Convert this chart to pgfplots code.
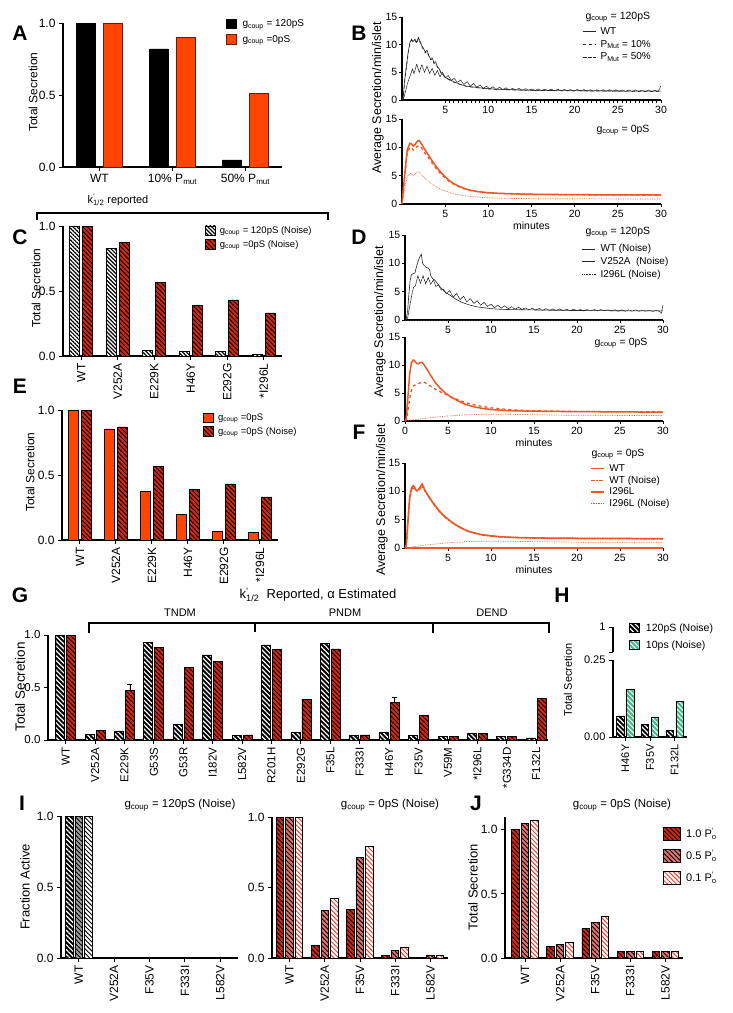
\documentclass[border=0pt]{standalone}
\usepackage{fontspec}
\setmainfont{Liberation Sans}
\usepackage{pgfplots}
\pgfplotsset{compat=1.18}
\usetikzlibrary{patterns.meta}
\newcommand{\fs}[1]{\fontsize{#1}{#1}\selectfont}
\definecolor{orA}{RGB}{255,69,0}
\definecolor{lineor}{RGB}{240,85,35}
\definecolor{redh}{RGB}{210,40,15}
\definecolor{pinkh}{RGB}{225,115,110}
\definecolor{wred}{RGB}{235,70,50}
\definecolor{greenh}{RGB}{60,190,140}
\tikzset{
 hK/.style={fill=black, postaction={pattern color=white, pattern={Lines[angle=-45,distance=3.4pt,line width=1.2pt]}}},
 hG/.style={fill=white, postaction={pattern color=black, pattern={Lines[angle=-45,distance=2.8pt,line width=1.2pt]}}},
 hR/.style={fill=redh, postaction={pattern color=black, pattern={Lines[angle=-45,distance=3.2pt,line width=0.9pt]}}},
 hP/.style={fill=pinkh, postaction={pattern color=black, pattern={Lines[angle=-45,distance=3.2pt,line width=0.9pt]}}},
 hWR/.style={fill=white, postaction={pattern color=wred, pattern={Lines[angle=-45,distance=3.2pt,line width=1pt]}}},
 hGR/.style={fill=greenh, postaction={pattern color=white, pattern={Lines[angle=-45,distance=3.4pt,line width=1pt]}}},
 hDG/.style={fill=gray!75, postaction={pattern color=black, pattern={Lines[angle=-45,distance=3.2pt,line width=0.9pt]}}},
 hWK/.style={fill=white, postaction={pattern color=black, pattern={Lines[angle=-45,distance=3.2pt,line width=0.9pt]}}},
}
\pgfplotsset{
 /pgf/number format/assume math mode=true,
 gp/.style={scale only axis, anchor=south west, axis lines*=left, axis line style={line width=1.1pt},
   tick style={black, line width=1pt}, tick align=outside, major tick length=4pt,
   ymin=0, clip=false, tick label style={font=\fs{12}}},
 bars/.style={gp, yticklabel style={/pgf/number format/.cd, fixed, fixed zerofill, precision=1},
   legend cell align=left, legend style={draw=none, fill=none, inner sep=0pt, nodes={inner sep=1pt}, column sep=3pt}},
 catx/.style={xticklabel style={rotate=90, anchor=east}},
 barleg/.style={legend image code/.code={\draw[##1] (0pt,-4.5pt) rectangle (10pt,5pt);}},
 bigleg/.style={legend image code/.code={\draw[##1] (0pt,-6.5pt) rectangle (17pt,6.5pt);}},
 lineleg/.style={legend image code/.code={\draw[##1] (0pt,0pt) -- (13pt,0pt);}},
 ts/.style={gp, xmin=0, xmax=30, ymax=15, ytick={0,5,10,15}, xtick={5,10,...,30}, no marks,
   major tick length=3pt, yticklabel style={inner xsep=1.5pt},
   tick label style={font=\fs{10.5}}, xlabel style={font=\fs{10.5}, yshift=3pt},
   legend cell align=left, legend style={draw=none, fill=none, font=\fs{10}, inner sep=0pt, nodes={inner sep=0.8pt}, row sep=2.5pt, column sep=4pt}, lineleg},
}
\begin{document}
\begin{tikzpicture}
\path[use as bounding box] (0,0) rectangle (733pt,-1013pt);

% ---------- A ----------
\begin{axis}[bars, at={(63pt,-167pt)}, width=219pt, height=144pt, xmin=-0.5, xmax=2.5, ymax=1,
  ytick={0,0.5,1}, xtick={0,1,2}, xticklabels={WT,10\% P\textsubscript{mut},50\% P\textsubscript{mut}},
  ybar=8pt, bar width=19pt, barleg,
  legend style={at={(0.744,1.03)}, anchor=north west, font=\fs{10}, row sep=5pt, column sep=5pt}]
\addplot[fill=black, draw=black] coordinates {(0,1) (1,0.82) (2,0.05)};
\addplot[fill=orA, draw=black!60!orA] coordinates {(0,1) (1,0.90) (2,0.51)};
\legend{g\textsubscript{coup} = 120pS, g\textsubscript{coup} =0pS}
\end{axis}

% ---------- C ----------
\begin{axis}[bars, catx, at={(63pt,-356pt)}, width=219pt, height=130pt, xmin=-0.5, xmax=5.5, ymax=1,
  ytick={0,0.5,1}, xtick={0,...,5}, xticklabels={WT,V252A,E229K,H46Y,E292G,*I296L},
  ybar=3pt, bar width=10pt, barleg,
  legend style={at={(0.648,1.005)}, anchor=north west, font=\fs{9.5}, row sep=3pt}]
\addplot[hG, draw=black, line width=0.8pt] coordinates {(0,1) (1,0.828) (2,0.041) (3,0.033) (4,0.033) (5,0.015)};
\addplot[hR, draw=black, line width=0.8pt] coordinates {(0,1) (1,0.872) (2,0.564) (3,0.387) (4,0.431) (5,0.331)};
\legend{g\textsubscript{coup} = 120pS (Noise), g\textsubscript{coup} =0pS (Noise)}
\end{axis}

% ---------- E ----------
\begin{axis}[bars, catx, at={(62pt,-540pt)}, width=216pt, height=130pt, xmin=-0.5, xmax=5.5, ymax=1,
  ytick={0,0.5,1}, xtick={0,...,5}, xticklabels={WT,V252A,E229K,H46Y,E292G,*I296L},
  ybar=3pt, bar width=10pt, barleg,
  legend style={at={(0.653,0.98)}, anchor=north west, font=\fs{9.5}, row sep=3pt}]
\addplot[fill=orA, draw=black, line width=0.8pt] coordinates {(0,1) (1,0.854) (2,0.372) (3,0.2) (4,0.069) (5,0.062)};
\addplot[hR, draw=black, line width=0.8pt] coordinates {(0,1) (1,0.870) (2,0.564) (3,0.387) (4,0.431) (5,0.331)};
\legend{g\textsubscript{coup} =0pS, g\textsubscript{coup} =0pS (Noise)}
\end{axis}

% ---------- B top ----------
\begin{axis}[ts, at={(402pt,-100pt)}, width=259pt, height=83pt, minor x tick num=9, minor tick length=2.5pt,
  legend style={at={(0.695,0.885)}, anchor=north west}]
\addplot[black!85, line width=0.6pt] coordinates {(0,0)(0.15,0.5)(0.3,3.5)(0.5,6)(0.7,8.5)(0.9,10.3)(1.1,11)(1.3,10.6)(1.5,11)(1.7,10.4)(1.9,11.3)(2.1,10.6)(2.3,9.8)(2.5,9.3)(2.7,8.7)(2.9,9.0)(3.1,8.0)(3.3,7.5)(3.5,7.6)(3.7,6.8)(3.9,6.9)(4.1,6.0)(4.3,5.7)(4.5,5.0)(4.8,4.5)(5.1,4.0)(5.5,3.7)(6.0,3.3)(6.5,3.0)(7.0,2.7)(7.5,2.5)(8.0,2.4)(9.0,2.2)(10,2.05)(11,1.95)(12,1.9)(14,1.8)(16,1.75)(18,1.7)(20,1.7)(22,1.65)(24,1.65)(26,1.6)(28,1.6)(30,1.6)};
\addplot[black!85, line width=0.6pt, dashed] coordinates {(0,0)(0.15,0.4)(0.3,3.2)(0.5,5.7)(0.7,8.2)(0.9,10.0)(1.1,10.8)(1.3,10.4)(1.5,10.8)(1.7,10.2)(1.9,11.1)(2.1,10.4)(2.3,9.6)(2.5,9.1)(2.7,8.5)(2.9,8.8)(3.1,7.8)(3.3,7.3)(3.5,7.4)(3.7,6.6)(3.9,6.7)(4.1,5.9)(4.3,5.6)(4.5,4.9)(4.8,4.4)(5.1,3.9)(5.5,3.6)(6.0,3.2)(6.5,2.9)(7.0,2.65)(7.5,2.45)(8.0,2.35)(9.0,2.15)(10,2.0)(11,1.9)(12,1.85)(14,1.78)(16,1.72)(18,1.68)(20,1.66)(22,1.63)(24,1.62)(26,1.6)(28,1.58)(30,1.58)};
\addplot[black!85, line width=0.6pt, dash pattern=on 1.3pt off 0.4pt] coordinates {(0,0)(0.2,0.3)(0.4,1.5)(0.6,2.8)(0.8,3.8)(1.0,4.6)(1.2,5.6)(1.4,4.8)(1.7,6.5)(2.0,5.0)(2.3,6.4)(2.6,5.0)(2.9,6.1)(3.2,4.8)(3.5,5.7)(3.8,4.5)(4.1,5.3)(4.4,4.2)(4.7,5.0)(5.0,4.0)(5.35,4.4)(5.7,3.6)(6.05,3.9)(6.4,3.2)(6.8,3.6)(7.15,2.8)(7.55,3.3)(7.9,2.5)(8.3,3.0)(8.65,2.3)(9.05,2.7)(9.4,2.1)(9.8,2.5)(10.15,2.0)(10.55,2.4)(10.9,1.9)(11.3,2.3)(11.65,1.9)(12.05,2.2)(12.4,1.8)(12.8,2.1)(13.15,1.8)(13.55,2.1)(13.9,1.75)(14.3,2.05)(14.65,1.75)(15.05,2.0)(15.4,1.7)(15.8,2.0)(16.15,1.7)(16.55,1.95)(16.9,1.7)(17.3,1.95)(17.65,1.65)(18.05,1.95)(18.4,1.65)(18.8,1.9)(19.15,1.65)(19.55,1.9)(19.9,1.6)(20.3,1.9)(20.65,1.6)(21.05,1.9)(21.4,1.6)(21.8,1.85)(22.15,1.6)(22.55,1.85)(22.9,1.6)(23.3,1.85)(23.65,1.55)(24.05,1.85)(24.4,1.55)(24.8,1.85)(25.15,1.55)(25.55,1.8)(25.9,1.55)(26.3,1.8)(26.65,1.55)(27.05,1.8)(27.4,1.55)(27.8,1.8)(28.15,1.5)(28.55,1.8)(28.9,1.5)(29.3,1.75)(29.6,1.5)(29.8,1.9)(30,2.6)};
\legend{WT, P\textsubscript{Mut} = 10\%, P\textsubscript{Mut} = 50\%}
\end{axis}

% ---------- B bottom ----------
\begin{axis}[ts, at={(402pt,-204pt)}, width=259pt, height=85pt, xlabel={minutes}]
\addplot[lineor, line width=1.5pt] coordinates {(0,0)(0.3,5)(0.6,9.5)(0.9,10.7)(1.1,10.6)(1.3,10.2)(1.5,10.5)(1.8,11.1)(2.0,11.2)(2.3,10.5)(2.6,9.7)(3.0,8.8)(3.5,7.6)(4.0,6.5)(4.5,5.6)(5.0,4.8)(5.5,4.1)(6.0,3.6)(6.5,3.2)(7.0,2.9)(7.5,2.6)(8.0,2.4)(9.0,2.15)(10,2.0)(11,1.9)(12,1.85)(14,1.75)(16,1.7)(18,1.68)(20,1.65)(22,1.63)(24,1.62)(26,1.6)(28,1.6)(30,1.6)};
\addplot[lineor, line width=1.2pt, dashed] coordinates {(0,0)(0.3,4.5)(0.6,9)(0.9,10.0)(1.1,9.9)(1.3,9.5)(1.5,9.8)(1.8,10.2)(2.0,10.3)(2.3,9.8)(2.6,9.1)(3.0,8.3)(3.5,7.2)(4.0,6.2)(4.5,5.3)(5.0,4.6)(5.5,3.9)(6.0,3.5)(6.5,3.1)(7.0,2.8)(7.5,2.55)(8.0,2.35)(9.0,2.1)(10,1.95)(11,1.85)(12,1.8)(14,1.72)(16,1.67)(18,1.64)(20,1.62)(22,1.6)(24,1.58)(26,1.57)(28,1.56)(30,1.56)};
\addplot[lineor, line width=0.7pt, densely dotted] coordinates {(0,0)(0.3,2.5)(0.6,4.8)(0.9,5.4)(1.1,5.3)(1.3,5.0)(1.5,5.3)(1.8,5.7)(2.0,5.6)(2.3,5.1)(2.6,4.6)(3.0,4.1)(3.5,3.5)(4.0,3.0)(4.5,2.6)(5.0,2.3)(6.0,1.8)(7.0,1.5)(8.0,1.3)(9.0,1.2)(10,1.1)(12,1.0)(15,0.95)(20,0.92)(25,0.9)(30,0.9)};
\end{axis}

% ---------- D top ----------
\begin{axis}[ts, at={(405pt,-320pt)}, width=258pt, height=85pt,
  legend style={at={(0.686,0.90)}, anchor=north west}]
\addplot[black!85, line width=0.6pt] coordinates {(0,0)(0.15,0.3)(0.3,1.5)(0.45,4.5)(0.6,7)(0.75,8)(0.95,8.2)(1.15,8.3)(1.35,9.5)(1.55,10.5)(1.75,11.2)(1.9,11.6)(2.05,10.0)(2.25,9.6)(2.45,9.3)(2.65,9.2)(2.85,8.9)(3.0,7.8)(3.2,7.3)(3.4,7.1)(3.6,6.8)(3.8,6.4)(4.0,6.0)(4.3,5.5)(4.6,5.0)(5.0,4.6)(5.5,4.1)(6.0,3.6)(6.5,3.2)(7.0,2.9)(7.5,2.65)(8.0,2.45)(8.5,2.3)(9.0,2.2)(10,2.0)(11,1.9)(12,1.85)(14,1.8)(16,1.75)(18,1.7)(20,1.68)(22,1.66)(24,1.64)(26,1.62)(28,1.6)(30,1.6)};
\addplot[black!85, line width=0.6pt, dash pattern=on 2.5pt off 0.5pt] coordinates {(0,0)(0.3,0.3)(0.5,2)(0.8,4.5)(1.0,5.8)(1.2,6.0)(1.5,7.8)(1.8,6.5)(2.1,7.8)(2.4,6.4)(2.7,7.5)(3.0,6.3)(3.3,7.1)(3.6,5.9)(3.9,6.2)(4.2,5.3)(4.5,5.4)(4.8,4.6)(5.2,5.2)(5.6,4.0)(6.0,4.7)(6.4,3.6)(6.8,4.2)(7.2,3.2)(7.6,3.8)(8.0,2.9)(8.4,3.4)(8.8,2.6)(9.2,3.1)(9.6,2.4)(10.0,2.8)(10.4,2.2)(10.8,2.6)(11.2,2.1)(11.6,2.5)(12.0,2.0)(12.4,2.35)(12.8,1.9)(13.2,2.25)(13.6,1.85)(14.0,2.15)(14.4,1.8)(14.8,2.1)(15.2,1.75)(15.6,2.05)(16.0,1.7)(16.4,2.0)(16.8,1.7)(17.2,1.95)(17.6,1.7)(18.0,1.95)(18.4,1.65)(18.8,1.9)(19.2,1.65)(19.6,1.9)(20.0,1.65)(20.4,1.85)(20.8,1.6)(21.2,1.85)(21.6,1.6)(22.0,1.85)(22.4,1.6)(22.8,1.85)(23.2,1.6)(23.6,1.8)(24.0,1.6)(24.4,1.8)(24.8,1.55)(25.2,1.8)(25.6,1.55)(26.0,1.8)(26.4,1.55)(26.8,1.8)(27.2,1.55)(27.6,1.75)(28.0,1.55)(28.4,1.75)(28.8,1.5)(29.2,1.75)(29.6,1.5)(29.8,1.2)(30,2.6)};
\addplot[black!85, line width=0.6pt, densely dotted] coordinates {(0,0)(10,0)(20,0)(30,0)};
\legend{WT (Noise), V252A\ \ (Noise), I296L (Noise)}
\end{axis}

% ---------- D bottom ----------
\begin{axis}[ts, at={(405pt,-421pt)}, width=258pt, height=84pt, xtick={0,5,...,30}, xlabel={minutes}]
\addplot[lineor, line width=1.5pt] coordinates {(0,0)(0.15,0.5)(0.35,4.5)(0.55,8.5)(0.75,10.4)(0.95,10.9)(1.15,10.7)(1.35,10.3)(1.55,10.2)(1.75,10.4)(1.95,10.5)(2.15,10.2)(2.4,9.6)(2.7,8.9)(3.0,8.1)(3.3,7.4)(3.6,6.7)(4.0,6.0)(4.4,5.4)(4.8,4.9)(5.3,4.3)(5.8,3.9)(6.4,3.4)(7.0,3.0)(7.6,2.7)(8.3,2.45)(9.0,2.25)(10,2.05)(11,1.95)(12,1.85)(14,1.78)(16,1.73)(18,1.7)(20,1.68)(22,1.66)(24,1.64)(26,1.62)(28,1.6)(30,1.6)};
\addplot[lineor, line width=1.3pt, dashed] coordinates {(0,0)(0.2,0.3)(0.4,2.5)(0.6,4.5)(0.8,5.8)(1.0,6.3)(1.3,6.5)(1.6,6.7)(1.9,6.9)(2.1,7.0)(2.4,6.8)(2.7,6.5)(3.0,6.2)(3.5,5.7)(4.0,5.3)(4.5,4.9)(5.0,4.6)(5.5,4.2)(6.0,3.9)(6.5,3.6)(7.0,3.3)(7.5,3.1)(8.0,2.9)(9.0,2.6)(10,2.35)(11,2.2)(12,2.05)(13,1.95)(14,1.88)(16,1.8)(18,1.74)(20,1.7)(22,1.68)(24,1.66)(26,1.65)(28,1.64)(30,1.63)};
\addplot[lineor, line width=0.7pt, densely dotted] coordinates {(0,0)(0.5,0.1)(1.0,0.2)(1.5,0.3)(2,0.4)(3,0.6)(4,0.75)(5,0.9)(6,1.0)(7,1.1)(8,1.15)(9,1.2)(10,1.2)(12,1.2)(14,1.15)(16,1.1)(18,1.05)(20,1.02)(25,1.0)(30,1.0)};
\end{axis}

% ---------- F ----------
\begin{axis}[ts, at={(405pt,-548pt)}, width=258pt, height=85pt, xlabel={minutes},
  legend style={at={(0.717,0.995)}, anchor=north west, row sep=1.5pt}]
\addplot[lineor, line width=1.5pt] coordinates {(0,0)(0.15,0.5)(0.35,5)(0.55,9)(0.75,10.6)(0.95,11.0)(1.1,10.8)(1.25,10.3)(1.4,10.1)(1.55,10.3)(1.7,10.6)(1.85,11.0)(2.0,11.3)(2.15,10.8)(2.35,10.1)(2.6,9.5)(2.9,8.8)(3.2,8.1)(3.5,7.5)(3.8,6.9)(4.2,6.2)(4.6,5.6)(5.0,5.1)(5.5,4.5)(6.0,4.0)(6.5,3.6)(7.0,3.2)(7.5,2.9)(8.0,2.7)(8.5,2.5)(9.0,2.35)(10,2.15)(11,2.0)(12,1.92)(13,1.86)(14,1.82)(16,1.77)(18,1.74)(20,1.72)(22,1.7)(24,1.69)(26,1.68)(28,1.67)(30,1.67)};
\addplot[lineor, line width=1.5pt, dash pattern=on 4pt off 1.5pt on 1.5pt off 1.5pt] coordinates {(0,0)(0.15,0.4)(0.35,4.7)(0.55,8.8)(0.75,10.3)(0.95,10.6)(1.1,10.5)(1.25,10.2)(1.4,10.1)(1.55,10.2)(1.7,10.4)(1.85,10.7)(2.0,10.9)(2.15,10.6)(2.35,10.0)(2.6,9.4)(2.9,8.7)(3.2,8.0)(3.5,7.4)(3.8,6.8)(4.2,6.1)(4.6,5.5)(5.0,5.0)(5.5,4.45)(6.0,3.95)(6.5,3.55)(7.0,3.15)(7.5,2.85)(8.0,2.65)(8.5,2.45)(9.0,2.3)(10,2.1)(11,1.97)(12,1.88)(13,1.82)(14,1.78)(16,1.73)(18,1.7)(20,1.68)(22,1.66)(24,1.65)(26,1.64)(28,1.63)(30,1.63)};
\addplot[lineor, line width=1.5pt] coordinates {(0,0)(10,0)(20,0)(30,0)};
\addplot[lineor, line width=0.7pt, densely dotted] coordinates {(0,0)(0.5,0.1)(1.0,0.2)(1.5,0.3)(2,0.45)(3,0.62)(4,0.78)(5,0.92)(6,1.02)(7,1.1)(8,1.16)(9,1.2)(10,1.21)(12,1.2)(14,1.15)(16,1.1)(18,1.06)(20,1.03)(25,1.0)(30,1.0)};
\legend{WT, WT (Noise), I296L, I296L (Noise)}
\end{axis}

% ---------- G ----------
\begin{axis}[bars, catx, at={(48pt,-740pt)}, width=500pt, height=105pt, xmin=-0.6, xmax=16.4, ymax=1,
  ytick={0,0.5,1}, xtick={0,...,16}, tick label style={font=\fs{11.5}},
  xticklabels={WT,V252A,E229K,G53S,G53R,I182V,L582V,R201H,E292G,F35L,F333I,H46Y,F35V,V59M,*I296L,*G334D,F132L},
  ybar=2pt, bar width=9pt]
\addplot[hK, draw=black, line width=0.8pt] coordinates {(0,1) (1,0.054) (2,0.086) (3,0.927) (4,0.152) (5,0.81) (6,0.04) (7,0.905) (8,0.07) (9,0.92) (10,0.044) (11,0.073) (12,0.044) (13,0.033) (14,0.063) (15,0.035) (16,0.02)};
\addplot[hR, draw=black, line width=0.8pt, error bars/.cd, y dir=plus, y explicit, error bar style={line width=0.9pt, black}, error mark options={rotate=90, mark size=2.5pt, line width=0.9pt, black}] coordinates {(0,1) (1,0.095) (2,0.47) +- (0,0.055) (3,0.883) (4,0.689) (5,0.752) (6,0.048) (7,0.863) (8,0.39) (9,0.867) (10,0.048) (11,0.36) +- (0,0.047) (12,0.23) (13,0.038) (14,0.063) (15,0.038) (16,0.397)};
\end{axis}

% ---------- H ----------
\begin{axis}[bars, catx, at={(613pt,-737pt)}, width=74pt, height=77pt, xmin=-0.5, xmax=2.5, ymax=0.25,
  ytick={0,0.25}, yticklabel style={/pgf/number format/.cd, fixed, fixed zerofill, precision=2},
  tick label style={font=\fs{11}}, xtick={0,1,2}, xticklabels={H46Y,F35V,F132L},
  ybar=2.5pt, bar width=7.5pt, barleg,
  legend style={at={(0.216,1.49)}, anchor=north west, font=\fs{10.5}, row sep=6pt, column sep=5pt}]
\addplot[hK, draw=black, line width=0.8pt] coordinates {(0,0.0685) (1,0.041) (2,0.02)};
\addplot[hGR, draw=black, line width=0.8pt] coordinates {(0,0.155) (1,0.065) (2,0.114)};
\legend{120pS (Noise), 10ps (Noise)}
\end{axis}
\begin{axis}[scale only axis, anchor=south west, at={(613pt,-652pt)}, width=74pt, height=25pt,
  ymin=0.75, ymax=1, xmin=0, xmax=1, hide x axis, axis y line*=left, axis line style={line width=1.1pt},
  tick style={black, line width=1pt}, tick align=outside, major tick length=4pt,
  ytick={0.75,1}, yticklabels={,1}, tick label style={font=\fs{11}}]
\addplot[draw=none] coordinates {(0,0.8)};
\end{axis}

% ---------- I left ----------
\begin{axis}[bars, catx, at={(61pt,-958pt)}, width=177pt, height=142pt, xmin=-0.5, xmax=4.5, ymax=1,
  ytick={0,0.5,1}, xtick={0,...,4}, xticklabels={WT,V252A,F35V,F333I,L582V},
  ybar=2pt, bar width=7.5pt]
\addplot[hK, draw=black, line width=0.9pt] coordinates {(0,1) (1,0) (2,0) (3,0) (4,0)};
\addplot[hDG, draw=black, line width=0.9pt] coordinates {(0,1) (1,0) (2,0) (3,0) (4,0)};
\addplot[hWK, draw=black, line width=0.9pt] coordinates {(0,1) (1,0) (2,0) (3,0) (4,0)};
\end{axis}

% ---------- I right ----------
\begin{axis}[bars, catx, at={(272pt,-958pt)}, width=176pt, height=141pt, xmin=-0.5, xmax=4.5, ymax=1,
  ytick={0,0.5,1}, xtick={0,...,4}, xticklabels={WT,V252A,F35V,F333I,L582V},
  ybar=2pt, bar width=7.5pt]
\addplot[hR, draw=black, line width=0.9pt] coordinates {(0,1) (1,0.087) (2,0.346) (3,0.016) (4,0.005)};
\addplot[hP, draw=black, line width=0.9pt] coordinates {(0,1) (1,0.334) (2,0.71) (3,0.054) (4,0.015)};
\addplot[hWR, draw=black, line width=0.9pt] coordinates {(0,1) (1,0.424) (2,0.793) (3,0.075) (4,0.015)};
\end{axis}

% ---------- J ----------
\begin{axis}[bars, catx, at={(505pt,-958pt)}, width=178pt, height=141pt, xmin=-0.57, xmax=4.5, ymax=1.1,
  ytick={0,0.5,1}, xtick={0,...,4}, xticklabels={WT,V252A,F35V,F333I,L582V},
  ybar=2pt, bar width=7.5pt, bigleg,
  legend style={at={(0.888,0.93)}, anchor=north west, font=\fs{11}, row sep=8pt, column sep=4pt}]
\addplot[hR, draw=black, line width=0.9pt] coordinates {(0,1) (1,0.093) (2,0.228) (3,0.05) (4,0.05)};
\addplot[hP, draw=black, line width=0.9pt] coordinates {(0,1.049) (1,0.104) (2,0.275) (3,0.05) (4,0.05)};
\addplot[hWR, draw=black, line width=0.9pt] coordinates {(0,1.07) (1,0.124) (2,0.324) (3,0.05) (4,0.05)};
\legend{1.0 P\rlap{\textsuperscript{'}}\textsubscript{o}, 0.5 P\rlap{\textsuperscript{'}}\textsubscript{o}, 0.1 P\rlap{\textsuperscript{'}}\textsubscript{o}}
\end{axis}

% ---------- annotations ----------
\begin{scope}[every node/.style={font=\bfseries\fs{21}}]
\node at (20pt,-33pt) {A};
\node at (359pt,-33pt) {B};
\node at (20pt,-237pt) {C};
\node at (359pt,-237pt) {D};
\node at (20pt,-386pt) {E};
\node at (359pt,-432pt) {F};
\node at (20pt,-595pt) {G};
\node at (562pt,-595pt) {H};
\node at (22pt,-803pt) {I};
\node at (476pt,-803pt) {J};
\end{scope}
\begin{scope}[every node/.style={rotate=90, font=\fs{12}}]
\node at (33pt,-92pt) {Total Secretion};
\node at (36pt,-288pt) {Total Secretion};
\node at (30pt,-472pt) {Total Secretion};
\node[font=\fs{13.5}] at (20pt,-687pt) {Total Secretion};
\node[font=\fs{11}] at (568pt,-680pt) {Total Secretion};
\node[font=\fs{13}] at (25pt,-887pt) {Fraction Active};
\node[font=\fs{13}] at (473pt,-887pt) {Total Secretion};
\node[font=\fs{12.5}] at (378pt,-98pt) {Average Secretion/min/islet};
\node[font=\fs{12.5}] at (380pt,-322pt) {Average Secretion/min/islet};
\node[font=\fs{12.5}] at (382pt,-500pt) {Average Secretion/min/islet};
\end{scope}
\begin{scope}[every node/.style={font=\fs{10.5}, anchor=west}]
\node at (582pt,-17pt) {g\textsubscript{coup} = 120pS};
\node at (593pt,-130pt) {g\textsubscript{coup} = 0pS};
\node at (582pt,-232pt) {g\textsubscript{coup} = 120pS};
\node at (591pt,-343pt) {g\textsubscript{coup} = 0pS};
\node at (588pt,-454pt) {g\textsubscript{coup} = 0pS};
\end{scope}
\node[font=\fs{11}] at (118pt,-200pt) {k\rlap{\textsuperscript{'}}\textsubscript{1/2} reported};
\draw[line width=1.3pt] (37pt,-220pt) -- (37pt,-213pt) -- (328pt,-213pt) -- (328pt,-220pt);
\node[font=\fs{13}] at (318pt,-595pt) {k\rlap{\textsuperscript{'}}\textsubscript{1/2}\ \ Reported, α Estimated};
\draw[line width=1.3pt] (89pt,-633pt) -- (89pt,-623pt) -- (549pt,-623pt) -- (549pt,-633pt);
\draw[line width=1.3pt] (255pt,-623pt) -- (255pt,-632pt);
\draw[line width=1.3pt] (433pt,-623pt) -- (433pt,-633pt);
\node[font=\fs{11}] at (180pt,-613pt) {TNDM};
\node[font=\fs{11}] at (345pt,-613pt) {PNDM};
\node[font=\fs{11}] at (492pt,-613pt) {DEND};
\node[font=\fs{11.5}] at (180pt,-805pt) {g\textsubscript{coup} = 120pS (Noise)};
\node[font=\fs{11.5}] at (390pt,-805pt) {g\textsubscript{coup} = 0pS (Noise)};
\node[font=\fs{11.5}] at (622pt,-805pt) {g\textsubscript{coup} = 0pS (Noise)};
\end{tikzpicture}
\end{document}
